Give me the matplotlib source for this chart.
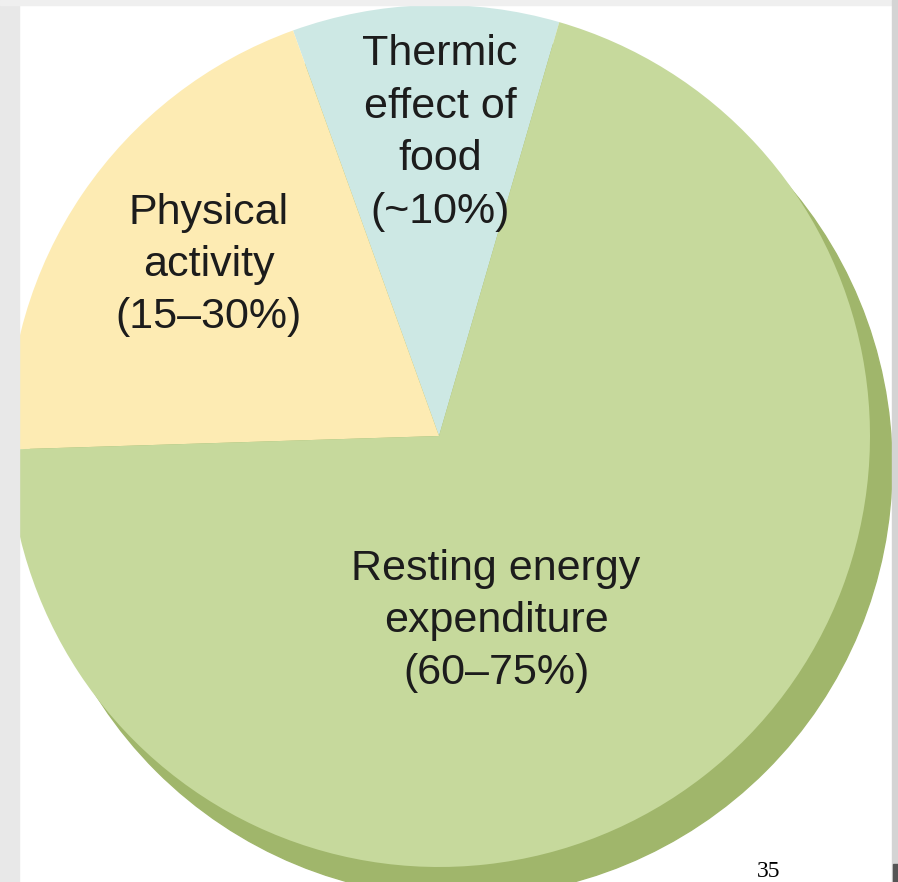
import matplotlib.pyplot as plt
from matplotlib.patches import Circle, Rectangle

# energy expenditure shares (approx. mid values, order: counter-clockwise from top)
categories = ["Thermic effect of food", "Physical activity", "Resting energy expenditure"]
shares = [10, 20, 70]
labels = ["Thermic\neffect of\nfood\n(~10%)",
          "Physical\nactivity\n(15\u201330%)",
          "Resting energy\nexpenditure\n(60\u201375%)"]
colors = ["#cde8e4", "#fdebb3", "#c6d99c"]

W, H = 898, 882


def py(y):
    # pixel row -> data y (axis runs bottom-up)
    return H - y


fig = plt.figure(figsize=(W / 100, H / 100), dpi=100)
ax = fig.add_axes([0, 0, 1, 1])

cx, cy, r = 439, py(436), 431

# darker rim / shadow behind the pie
ax.add_patch(Circle((cx + 22, cy - 30), r, color="#a0b66b", zorder=0))

wedges, _ = ax.pie(shares, colors=colors, center=(cx, cy), radius=r,
                   startangle=73.8, counterclock=True,
                   wedgeprops=dict(linewidth=0))
for w in wedges:
    w.set_zorder(1)

font = dict(family=["Liberation Sans", "DejaVu Sans"], fontsize=31,
            color="#1c1c1c", ha="center", va="center", linespacing=1.4, zorder=5)
ax.text(440, py(133), labels[0], **font)
ax.text(209, py(265), labels[1], **font)
ax.text(496, py(621), labels[2], **font)

# slide frame around the picture
ax.add_patch(Rectangle((0, 0), 19, H, color="#e8e8e8", zorder=8))
ax.add_patch(Rectangle((0, py(5)), W, 5, color="#efefef", zorder=8))
ax.add_patch(Rectangle((892, 0), 6, H, color="#d4d4d4", zorder=8))
ax.add_patch(Rectangle((893, 0), 5, 18, color="#555555", zorder=9))

# page number (sits at the very bottom of the slide)
ax.text(757, py(877), "35", family=["Liberation Serif", "DejaVu Serif"],
        fontsize=17, color="black", ha="left", va="baseline", zorder=9)

ax.set_xlim(0, W)
ax.set_ylim(0, H)
ax.set_aspect("equal")
ax.axis("off")

fig.savefig("out.png", dpi=100, facecolor="white")
